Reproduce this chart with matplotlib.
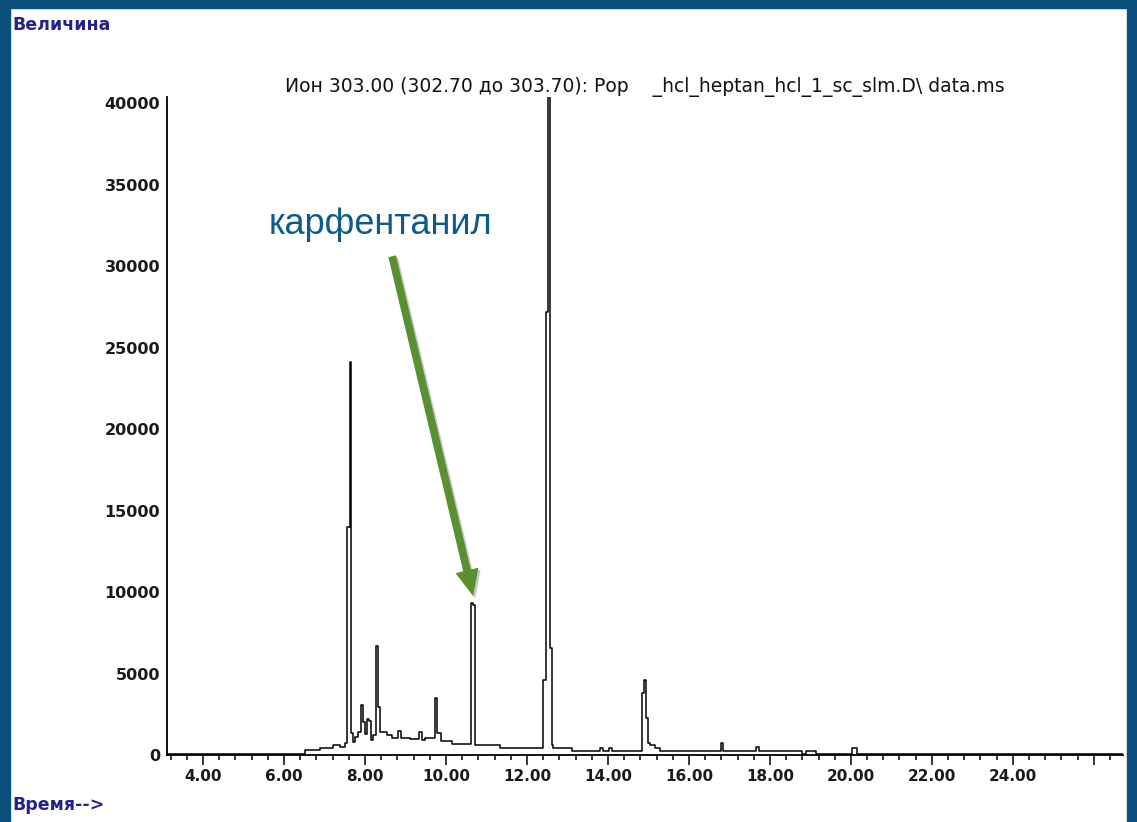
import numpy as np
import matplotlib
matplotlib.use('Agg')
import matplotlib.pyplot as plt
from matplotlib.patches import Rectangle
from matplotlib.ticker import MultipleLocator, FixedLocator, FixedFormatter
import matplotlib.patheffects as pe

# retention time (min) and abundance, step trace
time = [3.10, 6.52, 6.89, 7.21, 7.38, 7.51, 7.56, 7.62, 7.65, 7.70,
        7.75, 7.83, 7.89, 7.94, 7.99, 8.04, 8.09, 8.14, 8.20, 8.28,
        8.33, 8.37, 8.54, 8.67, 8.81, 8.88, 9.11, 9.33, 9.40, 9.48,
        9.72, 9.77, 9.88, 10.15, 10.62, 10.67, 10.72, 11.33, 12.40, 12.46,
        12.51, 12.56, 12.62, 12.64, 13.11, 13.80, 13.88, 14.02, 14.10, 14.84,
        14.89, 14.95, 14.99, 15.04, 15.16, 15.28, 16.78, 16.85, 17.65, 17.73,
        18.79, 18.89, 19.14, 20.02, 20.15, 26.72]
abund = [60, 300, 400, 600, 500, 750, 14000, 24100, 1350, 800,
         1100, 1400, 3070, 2000, 1300, 2200, 2100, 900, 1200, 6700,
         2940, 1400, 1200, 1050, 1450, 1050, 1000, 1400, 900, 1020,
         3500, 1350, 850, 680, 9300, 9200, 600, 430, 4600, 27200,
         41500, 6560, 600, 430, 245, 430, 245, 430, 250, 3800,
         4600, 2270, 740, 600, 430, 245, 740, 270, 490, 245,
         60, 245, 60, 430, 60, 60]

yticks = [0, 5000, 10000, 15000, 20000, 25000, 30000, 35000, 40000]
xticks = [4, 6, 8, 10, 12, 14, 16, 18, 20, 22, 24, 26]
xlabels = ['4.00', '6.00', '8.00', '10.00', '12.00', '14.00', '16.00',
           '18.00', '20.00', '22.00', '24.00', '']

title = 'Ион 303.00 (302.70 до 303.70): Рор    _hcl_heptan_hcl_1_sc_slm.D\\ data.ms'
label = 'карфентанил'
label_pos = (8.37, 31960)
arrow_from = (8.67, 30600)
arrow_to = (10.67, 9750)

plt.rcParams['font.family'] = ['DejaVu Sans']

W, H = 1137, 822
fig = plt.figure(figsize=(W/100, H/100), dpi=100)
fig.patch.set_facecolor('white')

# dark blue frame around the screenshot
frame = '#0d4f7c'
fig.patches.append(Rectangle((0, 0), 10/W, 1, transform=fig.transFigure, color=frame, zorder=0))
fig.patches.append(Rectangle((0, 1-8/H), 1, 8/H, transform=fig.transFigure, color=frame, zorder=0))
fig.patches.append(Rectangle((1-10/W, 0), 10/W, 1, transform=fig.transFigure, color=frame, zorder=0))

ax = fig.add_axes([167/W, 67/H, (1123-167)/W, (755-97)/H])
ax.plot(time, abund, color='black', linewidth=1.1, drawstyle='steps-post')

ax.set_xlim(3.11, 26.72)
ax.set_ylim(0, 40370)

ax.spines['top'].set_visible(False)
ax.spines['right'].set_visible(False)
ax.spines['left'].set_linewidth(1.3)
ax.spines['bottom'].set_linewidth(1.3)

ax.yaxis.set_major_locator(FixedLocator(yticks))
ax.set_yticklabels([str(v) for v in yticks])
ax.tick_params(axis='y', length=0, pad=5, labelsize=11.5, labelcolor='#1a1a1a')
for t in ax.get_yticklabels():
    t.set_fontweight('bold')

ax.xaxis.set_major_locator(FixedLocator(xticks))
ax.xaxis.set_major_formatter(FixedFormatter(xlabels))
ax.xaxis.set_minor_locator(MultipleLocator(0.4))
ax.tick_params(axis='x', which='major', direction='out', length=7.2, width=1.1,
               pad=3, labelsize=11, labelcolor='#1a1a1a')
ax.tick_params(axis='x', which='minor', direction='out', length=3.6, width=1.1)
for t in ax.get_xticklabels():
    t.set_fontweight('bold')

ax.set_title(title, fontsize=13.5, pad=3, color='#111111')

ax.text(label_pos[0], label_pos[1], label, family='Liberation Sans', fontsize=26,
        color='#0e5a8c', ha='center', va='baseline')
ax.annotate('', xy=arrow_to, xytext=arrow_from,
            arrowprops=dict(width=5.6, headwidth=17, headlength=19, shrink=0,
                            facecolor='#5a8f32', edgecolor='#5a8f32', linewidth=0,
                            path_effects=[pe.SimplePatchShadow(offset=(1.5, -1.5), alpha=0.25),
                                          pe.Normal()]))

fig.text(12/W, 1-29.5/H, 'Величина', fontsize=12.5, fontweight='bold', color='#22228a',
         ha='left', va='baseline')
fig.text(12/W, 1-810/H, 'Время-->', fontsize=12.5, fontweight='bold', color='#22228a',
         ha='left', va='baseline')

plt.savefig('out.png', dpi=100)
